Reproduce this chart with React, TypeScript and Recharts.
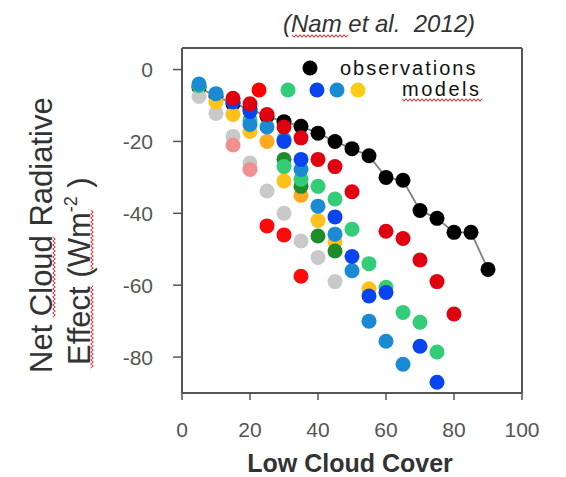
import { ScatterChart, Scatter, XAxis, YAxis, ReferenceLine, Customized } from 'recharts'

const FONT = '"Liberation Sans", Arial, Helvetica, sans-serif'

// observations (black, joined by a line)
const OBS_X = [5, 10, 15, 20, 25, 30, 35, 40, 45, 50, 55, 60, 65, 70, 75, 80, 85, 90]
const OBS_Y = [-5, -7.5, -9.5, -11, -13, -14.5, -15.8, -17.7, -20, -22, -24, -30, -30.8, -39.2, -41.4, -45.3, -45.3, -55.6]

// model dots
const GRAY_X = [5, 10, 15, 20, 25, 30, 35, 40, 45]
const GRAY_Y = [-7.5, -12.2, -18.6, -26, -33.8, -40, -47.7, -52.3, -59]
const PINK_X = [15, 20]
const PINK_Y = [-21, -27.8]
const RED_B_X = [25, 30, 35]
const RED_B_Y = [-43.5, -46, -57.5]
const ORANGE_X = [25, 35]
const ORANGE_Y = [-20, -35]
const YELLOW_X = [10, 15, 20, 30, 40, 45, 55]
const YELLOW_Y = [-9, -12.5, -17.2, -31, -42, -48, -61]
const DKGREEN_X = [30, 35, 40, 45]
const DKGREEN_Y = [-25, -32.5, -46.3, -50.5]
const GREEN_X = [5, 20, 30, 35, 40, 45, 50, 55, 60, 65, 70, 75]
const GREEN_Y = [-4.5, -14, -27, -30.5, -32.5, -36, -44.4, -54, -60.6, -67.6, -70.3, -78.6]
const CYAN_X = [5, 10, 20, 25, 30, 35, 40, 45, 50, 55, 60, 65]
const CYAN_Y = [-4, -6.7, -15.3, -16, -19.4, -27.8, -38, -45.8, -56, -70, -75.6, -82]
const BLUE_X = [15, 20, 30, 35, 45, 50, 55, 60, 70, 75]
const BLUE_Y = [-9, -11.7, -20, -25, -41, -52, -63, -62, -77, -87]
const RED_A_X = [15, 20, 25, 30, 35, 40, 45, 50, 60, 65, 70, 75, 80]
const RED_A_Y = [-8, -9.5, -12.5, -16, -19, -25, -27, -34, -45, -47, -53, -59, -68]

const X_TICKS = [0, 20, 40, 60, 80, 100]
const Y_TICKS = [0, -20, -40, -60, -80]

const LEGEND_COLORS = ['#ff0000', '#33cc77', '#0a44ee', '#1a8ad4', '#ffcc11']

function zip(xs: number[], ys: number[]) {
  return xs.map((x, i) => ({ x, y: ys[i] }))
}

const MODELS = [
  { name: 'gray', color: '#c9c9c9', data: zip(GRAY_X, GRAY_Y) },
  { name: 'pink', color: '#f09090', data: zip(PINK_X, PINK_Y) },
  { name: 'redB', color: '#ff0a0a', data: zip(RED_B_X, RED_B_Y) },
  { name: 'orange', color: '#ffa820', data: zip(ORANGE_X, ORANGE_Y) },
  { name: 'yellow', color: '#ffc11a', data: zip(YELLOW_X, YELLOW_Y) },
  { name: 'dkgreen', color: '#1f8c2c', data: zip(DKGREEN_X, DKGREEN_Y) },
  { name: 'green', color: '#33cc77', data: zip(GREEN_X, GREEN_Y) },
  { name: 'cyan', color: '#1a8ad4', data: zip(CYAN_X, CYAN_Y) },
  { name: 'blue', color: '#0a44ee', data: zip(BLUE_X, BLUE_Y) },
  { name: 'redA', color: '#e00010', data: zip(RED_A_X, RED_A_Y) },
]

function dot(color: string) {
  return (p: any) => <circle cx={p.cx} cy={p.cy} r={7.5} fill={color} />
}

// red spell-check squiggle
function wave(x: number, y: number, len: number, vertical: boolean) {
  let d = ''
  for (let i = 0; i <= len; i += 2) {
    const off = (i / 2) % 2 === 0 ? -1.3 : 1.3
    const px = vertical ? x + off : x + i
    const py = vertical ? y - i : y + off
    d += (i === 0 ? 'M' : 'L') + px + ',' + py
  }
  return d
}

function Overlay() {
  const sq = { stroke: '#e02020', strokeWidth: 1, fill: 'none' }
  return (
    <g fontFamily={FONT}>
      <text x={283} y={32} fontSize={24} fontStyle="italic" fill="#333">
        (Nam et al.{'\u00a0'} 2012)
      </text>
      <path d={wave(292, 36, 56, false)} {...sq} />

      <text transform="rotate(-90)" x={-373} y={52} fontSize={31} fill="#333">
        Net Cloud Radiative
      </text>
      <text transform="rotate(-90)" x={-365} y={90} fontSize={31} fill="#333">
        Effect (Wm
        <tspan dy={-13} fontSize={18}>-2</tspan>
        <tspan dy={13}> )</tspan>
      </text>
      <path d={wave(54, 317, 80, true)} {...sq} />
      <path d={wave(92, 368, 82, true)} {...sq} />
      <path d={wave(92, 270, 60, true)} {...sq} />

      <text x={350} y={472} fontSize={25} fontWeight="bold" fill="#333" textAnchor="middle">
        Low Cloud Cover
      </text>

      <circle cx={310} cy={68} r={7.5} fill="#000" />
      <text x={340} y={75} fontSize={20} letterSpacing={2} fill="#111">observations</text>
      {[259, 288, 317, 337, 358].map((cx, i) => (
        <circle key={i} cx={cx} cy={90} r={7.5} fill={LEGEND_COLORS[i]} />
      ))}
      <text x={402} y={96} fontSize={20} letterSpacing={2.5} fill="#111">models</text>
      <path d={wave(402, 100, 80, false)} {...sq} />
    </g>
  )
}

export default function App() {
  const obs = zip(OBS_X, OBS_Y)
  return (
    <div style={{ position: 'absolute', left: 0, top: 0, width: 566, height: 477, background: '#fff' }}>
      <ScatterChart width={566} height={477} margin={{ top: 48, right: 44, bottom: 44, left: 112 }}>
        <XAxis
          type="number"
          dataKey="x"
          domain={[0, 100]}
          ticks={X_TICKS}
          height={40}
          tickSize={7}
          tickMargin={22}
          tick={{ fontSize: 21, fill: '#555', fontFamily: FONT }}
          axisLine={{ stroke: '#555', strokeWidth: 2 }}
          tickLine={{ stroke: '#555', strokeWidth: 1.5 }}
        />
        <YAxis
          type="number"
          dataKey="y"
          domain={[-90, 6]}
          ticks={Y_TICKS}
          width={70}
          tickSize={9}
          tickMargin={20}
          allowDataOverflow
          tick={{ fontSize: 21, fill: '#555', fontFamily: FONT }}
          axisLine={{ stroke: '#555', strokeWidth: 2 }}
          tickLine={{ stroke: '#555', strokeWidth: 1.5 }}
        />
        <ReferenceLine y={6} stroke="#555" strokeWidth={2} />
        <ReferenceLine x={100} stroke="#555" strokeWidth={2} />
        <Scatter
          data={obs}
          line={{ stroke: '#808080', strokeWidth: 1.8 }}
          shape={dot('#000')}
          isAnimationActive={false}
        />
        {MODELS.map((m) => (
          <Scatter key={m.name} data={m.data} shape={dot(m.color)} isAnimationActive={false} />
        ))}
        <Customized component={Overlay} />
      </ScatterChart>
    </div>
  )
}
